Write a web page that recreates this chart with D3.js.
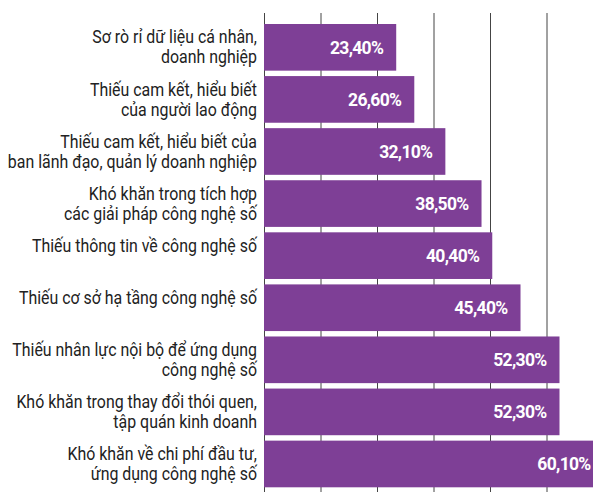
<!DOCTYPE html>
<html>
<head>
<meta charset="utf-8">
<script src="https://cdn.jsdelivr.net/npm/d3@7"></script>
<style>
  body { margin: 0; background: #fff; }
  svg { display: block; }
  .cat { font-family: "Roboto", sans-serif; font-size: 17.5px; fill: #222; }
  .val { font-family: "Roboto", sans-serif; font-weight: bold; font-size: 17.5px; fill: #fff; letter-spacing: -0.7px; }
</style>
</head>
<body>
<div id="chart-area"></div>
<script>
// DATA
// =====
var categories = [
    ['Sơ rò rỉ dữ liệu cá nhân,', 'doanh nghiệp'],
    ['Thiếu cam kết, hiểu biết', 'của người lao động'],
    ['Thiếu cam kết, hiểu biết của', 'ban lãnh đạo, quản lý doanh nghiệp'],
    ['Khó khăn trong tích hợp', 'các giải pháp công nghệ số'],
    ['Thiếu thông tin về công nghệ số'],
    ['Thiếu cơ sở hạ tầng công nghệ số'],
    ['Thiếu nhân lực nội bộ để ứng dụng', 'công nghệ số'],
    ['Khó khăn trong thay đổi thói quen,', 'tập quán kinh doanh'],
    ['Khó khăn về chi phí đầu tư,', 'ứng dụng công nghệ số']
];
var values = [23.4, 26.6, 32.1, 38.5, 40.4, 45.4, 52.3, 52.3, 60.1];
var ticks = [0, 10, 20, 30, 40, 50];

// CANVAS
// =======
var W = 593, H = 492;
var x0 = 264;

var svg = d3.select('#chart-area')
    .append('svg')
        .attr('width', W)
        .attr('height', H);

var x = d3.scaleLinear()
    .domain([0, 50])
    .range([x0, x0 + 282.5]);

var y = d3.scaleBand()
    .domain(d3.range(values.length))
    .range([24, 487.3])
    .paddingInner(0.104)
    .paddingOuter(0);

var fmt = function(v) { return d3.format('.2f')(v).replace('.', ',') + '%'; };

// grid
svg.append('g')
    .selectAll('line')
    .data(ticks)
    .enter()
    .append('line')
        .attr('x1', d => x(d) + 0.5)
        .attr('x2', d => x(d) + 0.5)
        .attr('y1', 13)
        .attr('y2', H)
        .attr('stroke', '#444')
        .attr('stroke-width', 1);

// bars
svg.append('g')
    .selectAll('rect')
    .data(values)
    .enter()
    .append('rect')
        .attr('x', x(0))
        .attr('y', (d, i) => y(i))
        .attr('width', d => x(d) - x(0))
        .attr('height', y.bandwidth())
        .attr('fill', '#7e3f96');

// value labels
svg.append('g')
    .selectAll('text')
    .data(values)
    .enter()
    .append('text')
        .attr('class', 'val')
        .attr('x', d => x(d) - 13)
        .attr('y', (d, i) => y(i) + y.bandwidth() / 2)
        .attr('dy', '0.36em')
        .attr('text-anchor', 'end')
        .text(fmt);

// category labels (condensed with a horizontal squeeze)
var cats = svg.append('g')
    .selectAll('text')
    .data(categories)
    .enter()
    .append('text')
        .attr('class', 'cat')
        .attr('text-anchor', 'end')
        .attr('transform', 'translate(257,0) scale(0.91,1)');

cats.selectAll('tspan')
    .data((d, i) => d.map((s, j) => ({ s: s, i: i, j: j })))
    .enter()
    .append('tspan')
        .attr('x', 0)
        .attr('y', d => y(d.i) + y.bandwidth() / 2 + (d.j === 0 ? -10 : 10))
        .attr('dy', '0.35em')
        .text(d => d.s);
</script>
</body>
</html>
